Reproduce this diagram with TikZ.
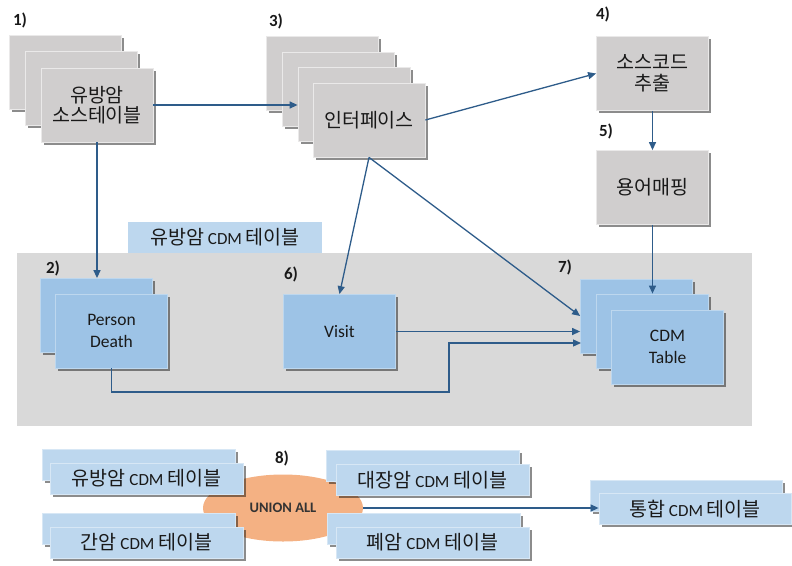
\documentclass[tikz,border=0pt]{standalone}
\usepackage{fontspec}
\setmainfont{Carlito}
\newfontfamily\kr[Scale=1.15]{Noto Sans CJK KR}
\usetikzlibrary{shadows,arrows.meta,shapes.geometric}
\definecolor{boxgray}{HTML}{D0CECE}
\definecolor{regiongray}{HTML}{D9D9D9}
\definecolor{boxblue}{HTML}{9DC3E6}
\definecolor{boxblueb}{HTML}{BDD7EE}
\definecolor{lblue}{HTML}{BDD7EE}
\definecolor{orng}{HTML}{F4B183}
\definecolor{arrblue}{HTML}{2E5C8A}
\tikzset{
  shad/.style={drop shadow={shadow xshift=2.5pt,shadow yshift=-2.5pt,fill=black,opacity=0.45}},
  gbox/.style={rectangle, fill=boxgray, draw=white!55!boxgray, line width=0.8pt,
    minimum width=112pt, minimum height=74pt, inner sep=0pt, align=center, shad,
    font=\kr\fontsize{17}{20.5}\selectfont, text=black!90},
  bbox/.style={rectangle, fill=boxblue, draw=boxblueb, line width=0.8pt,
    minimum width=112pt, minimum height=74pt, inner sep=0pt, align=center, shad,
    font=\fontsize{17.5}{22}\selectfont, text=black!90},
  wbox/.style={rectangle, fill=lblue, draw=white!40!lblue, line width=0.8pt,
    minimum width=193pt, minimum height=31pt, inner sep=0pt, shad,
    font=\fontsize{17}{20}\selectfont, text=black!90},
  lbox/.style={rectangle, fill=lblue, minimum width=194pt, minimum height=31pt,
    inner sep=0pt, font=\fontsize{17}{20}\selectfont, text=black!90},
  lbl/.style={font=\bfseries\fontsize{17}{17}\selectfont, text=black!90},
  arr/.style={draw=arrblue, line width=1.3pt, -{Triangle[length=8pt,width=7pt]}},
}
\begin{document}
\begin{tikzpicture}[x=1pt,y=-1pt]
\useasboundingbox (0,0) rectangle (792,565);
% region
\fill[regiongray] (17,253) rectangle (752,426);
\node[lbox] (tabl) at (225,237.5) {{\kr 유방암} CDM {\kr 테이블}};
% stack 1
\node[gbox] (s1a) at (65,72.5) {};
\node[gbox] (s1b) at (81,88.5) {};
\node[gbox] (s1c) at (97,105) {유방암\\소스테이블};
% stack 3
\node[gbox] (s3a) at (322.5,73.5) {};
\node[gbox] (s3b) at (338.5,89) {};
\node[gbox] (s3c) at (354,104.5) {};
\node[gbox] (s3d) at (369,120) {인터페이스};
% 4 and 5
\node[gbox] (src) at (652.5,73.5) {소스코드\\추출};
\node[gbox] (map) at (652.5,187.5) {용어매핑};
% blue boxes
\node[bbox] (pda) at (96.5,315.5) {};
\node[bbox] (pdb) at (111.5,331) {Person\\Death};
\node[bbox] (vis) at (339.5,331.5) {Visit};
\node[bbox] (cda) at (636.5,316) {};
\node[bbox] (cdb) at (652.5,331) {};
\node[bbox] (cdc) at (667.5,347) {CDM\\Table};
% labels
\node[lbl] (l1) at (20,20) {1)};
\node[lbl] (l2) at (53,268) {2)};
\node[lbl] (l3) at (276,21) {3)};
\node[lbl] (l4) at (603,14) {4)};
\node[lbl] (l5) at (606,131) {5)};
\node[lbl] (l6) at (291,274) {6)};
\node[lbl] (l7) at (565,267) {7)};
% arrows
\draw[arr] (s1c.east) -- (s1c.east -| s3c.west);
\draw[arr] (s1c.south) -- (s1c.south |- pda.north);
\draw[arr] (s3d.east) -- (src.west);
\draw[arr] (src.south) -- (map.north);
\draw[arr] (map.south) -- (map.south |- cdb.north);
\draw[arr] (s3d.south) -- (vis.north);
\draw[arr] (s3d.south) -- (cda.west);
\draw[arr] (vis.east) -- (vis.east -| cda.west);
\coordinate (pdin) at (581,343);
\coordinate (pdbend) at (449,392);
\draw[arr] (pdb.south) |- (pdbend) |- (pdin);
% bottom
\node[ellipse, fill=orng, minimum width=160pt, minimum height=67pt, inner sep=0pt,
  font=\bfseries\fontsize{14.5}{15}\selectfont, text=black!80] (ua) at (283,508) {UNION ALL};
\node[wbox] (b1a) at (138.5,464.5) {};
\node[wbox] (b1b) at (146.5,478.5) {{\kr 유방암} CDM {\kr 테이블}};
\node[wbox] (b2a) at (138.5,528.5) {};
\node[wbox] (b2b) at (146.5,542.5) {{\kr 간암} CDM {\kr 테이블}};
\node[wbox] (b3a) at (422.5,465.5) {};
\node[wbox] (b3b) at (432.5,480) {{\kr 대장암} CDM {\kr 테이블}};
\node[wbox] (b4a) at (424,528.5) {};
\node[wbox] (b4b) at (432.5,542.5) {{\kr 폐암} CDM {\kr 테이블}};
\node[wbox, minimum width=192pt] (ta) at (686.5,495.5) {};
\node[wbox, minimum width=192pt] (tb) at (695,509) {{\kr 통합} CDM {\kr 테이블}};
\node[lbl] (l8) at (282,458) {8)};
\draw[arr] (ua.east) -- (ua.east -| tb.west);
\end{tikzpicture}
\end{document}
